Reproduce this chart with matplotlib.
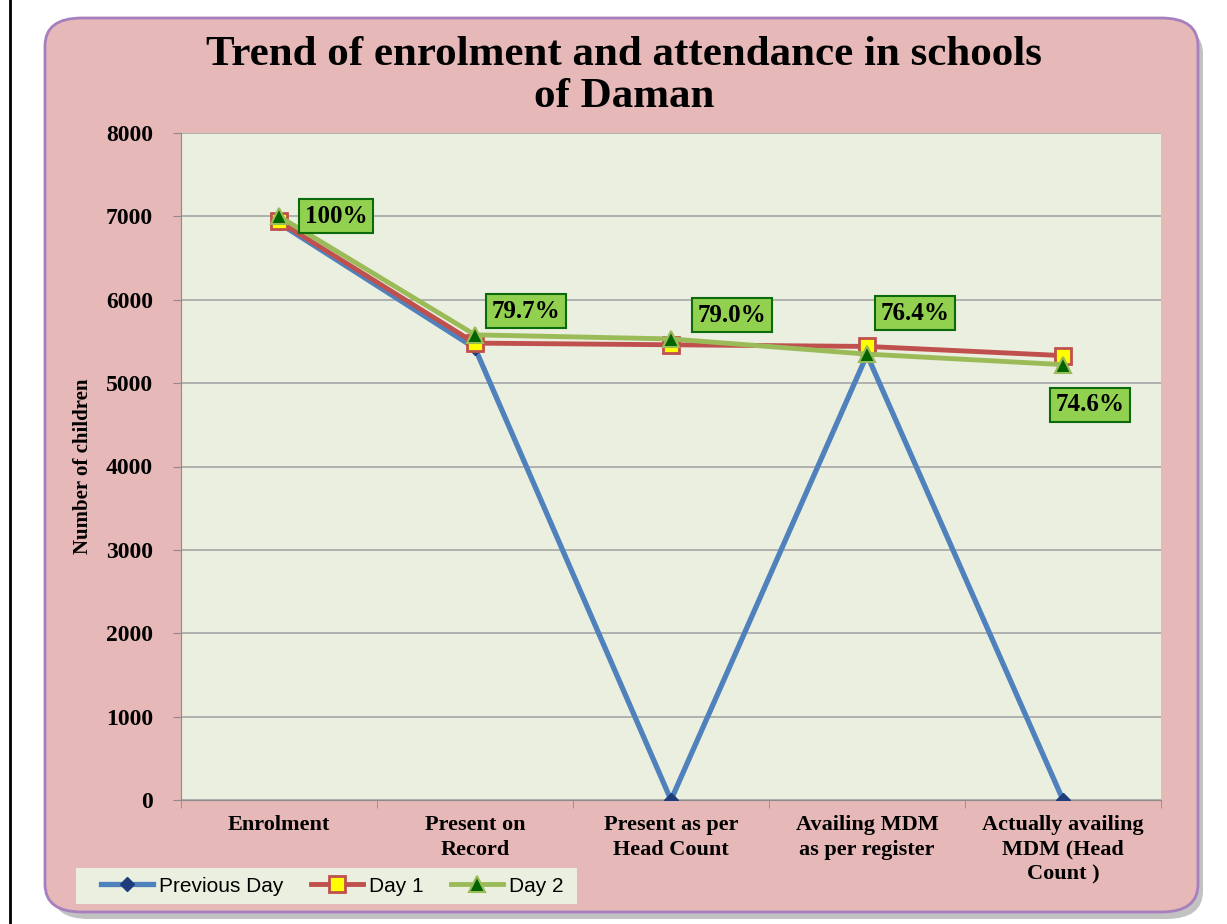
import matplotlib.pyplot as plt
from matplotlib.patches import FancyBboxPatch, Rectangle
from matplotlib.lines import Line2D
import numpy as np

# Data
categories = ['Enrolment', 'Present on\nRecord', 'Present as per\nHead Count',
              'Availing MDM\nas per register', 'Actually availing\nMDM (Head\nCount )']
previous_day = [6920, 5420, 0, 5340, 0]
day1 = [6940, 5480, 5460, 5440, 5330]
day2 = [7000, 5579, 5530, 5348, 5222]
pct_labels = ['100%', '79.7%', '79.0%', '76.4%', '74.6%']

W, H = 1227, 924
fig = plt.figure(figsize=(W / 100, H / 100), dpi=100)
fig.patch.set_facecolor('white')

serif = 'Liberation Serif'

# left black border line
fig.add_artist(Line2D([10 / W, 10 / W], [0, 1], color='black', lw=2))

# shadow + rounded panel
shadow = FancyBboxPatch((52 / W, (H - 919) / H), 1151 / W, 893 / H,
                        boxstyle='round,pad=0,rounding_size=0.03',
                        transform=fig.transFigure, facecolor='#9a9a9a',
                        edgecolor='none', alpha=0.6, zorder=0)
fig.add_artist(shadow)
panel = FancyBboxPatch((45 / W, (H - 912) / H), 1153 / W, 894 / H,
                       boxstyle='round,pad=0,rounding_size=0.03',
                       transform=fig.transFigure, facecolor='#E6B8B7',
                       edgecolor='#A67FBF', lw=2, zorder=1)
fig.add_artist(panel)

ax = fig.add_axes([181 / W, (H - 800) / H, 980 / W, 667 / H])
ax.set_zorder(2)
ax.set_facecolor('#EBEFE0')

x = np.arange(len(categories))
ax.plot(x, previous_day, color='#4F81BD', lw=3.8, marker='D', ms=7,
        mfc='#1F3D7A', mec='#1F3D7A', label='Previous Day', zorder=3)
ax.plot(x, day1, color='#C0504D', lw=3.5, marker='s', ms=12,
        mfc='#FFFF00', mec='#C0504D', mew=2, label='Day 1', zorder=4)
ax.plot(x, day2, color='#9BBB59', lw=3.5, marker='^', ms=11,
        mfc='#006400', mec='#9BBB59', mew=1.5, label='Day 2', zorder=5)

# percentage labels (Day 2), placed in data coordinates
label_pos = [(0.29, 7000), (1.26, 5865), (2.31, 5817), (3.245, 5841), (4.14, 4738)]
for lab, (lx, ly) in zip(pct_labels, label_pos):
    ax.text(lx, ly, lab, ha='center', va='center', fontsize=18, fontweight='bold',
            family=serif, zorder=6,
            bbox=dict(boxstyle='square,pad=0.22', fc='#92D050', ec='#0B6B0B', lw=1.5))

ax.set_xlim(-0.5, len(categories) - 0.5)
ax.set_ylim(0, 8000)
ax.set_yticks(np.arange(0, 8001, 1000))
ax.yaxis.grid(True, color='#A6A6A6', lw=1.2)
ax.set_axisbelow(True)
ax.set_xticks(x)
ax.set_xticklabels(categories, fontsize=16, fontweight='bold', family=serif,
                   linespacing=1.3)
ax.set_xticks(np.arange(-0.5, len(categories)), minor=True)
ax.tick_params(axis='x', which='major', length=0, pad=11)
ax.tick_params(axis='x', which='minor', length=6, color='#8c8c8c', direction='out')
ax.tick_params(axis='y', length=6, color='#8c8c8c', pad=14)
for t in ax.get_yticklabels():
    t.set_fontsize(17)
    t.set_fontweight('bold')
    t.set_family(serif)
for s in ['top', 'right']:
    ax.spines[s].set_visible(False)
for s in ['left', 'bottom']:
    ax.spines[s].set_color('#8c8c8c')

fig.text(83 / W, 1 - 466 / H, 'Number of children', rotation=90, ha='center',
         va='center', fontsize=15, fontweight='bold', family=serif)

fig.text(624 / W, 1 - 76 / H, 'Trend of enrolment and attendance in schools\nof Daman',
         ha='center', va='center', fontsize=31, fontweight='bold', family=serif,
         linespacing=1.12)

# legend background box
fig.add_artist(Rectangle((76 / W, (H - 904) / H), 501 / W, 36 / H,
                         transform=fig.transFigure, facecolor='#EBEFE0',
                         edgecolor='none', zorder=2))
leg = fig.legend(loc='center left', bbox_to_anchor=(101 / W, 1 - 886 / H), ncol=3,
                 frameon=False, prop={'family': 'Liberation Sans', 'size': 15},
                 handlelength=2.5, columnspacing=1.3, handletextpad=0.3, borderpad=0,
                 borderaxespad=0)
leg.set_zorder(3)

fig.savefig('out.png', dpi=100)
